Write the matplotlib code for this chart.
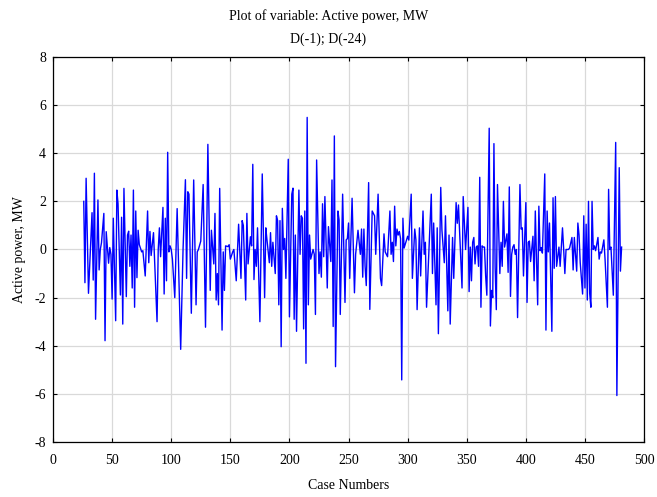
import numpy as np
import matplotlib
matplotlib.use('Agg')
import matplotlib.pyplot as plt

# case numbers and values
cases = [
    26, 27, 28, 30, 33, 34, 35, 36, 38, 39, 40, 41, 43, 44, 45, 47, 48, 49, 50, 51,
    53, 54, 55, 57, 58, 59, 60, 62, 63, 64, 65, 66, 67, 68, 69, 70, 71, 72, 73, 75,
    76, 78, 80, 81, 82, 83, 85, 88, 89, 90, 91, 93, 94, 95, 96, 97, 98, 99, 100, 101,
    103, 105, 108, 110, 112, 113, 114, 115, 117, 119, 121, 122, 123, 125, 127, 129, 131, 133, 134, 136,
    137, 138, 139, 140, 141, 143, 144, 145, 146, 148, 149, 150, 152, 153, 155, 157, 159, 160, 161, 163,
    164, 165, 167, 168, 169, 170, 171, 172, 173, 175, 177, 179, 180, 181, 183, 184, 185, 186, 188, 189,
    190, 191, 192, 193, 194, 195, 196, 197, 199, 200, 202, 203, 204, 205, 206, 208, 209, 210, 211, 212,
    213, 214, 215, 216, 217, 218, 220, 221, 222, 223, 225, 226, 227, 228, 229, 230, 232, 233, 235, 236,
    237, 238, 239, 241, 242, 243, 245, 247, 248, 249, 250, 251, 253, 255, 256, 258, 260, 261, 262, 263,
    264, 265, 267, 268, 270, 272, 273, 275, 277, 278, 280, 281, 283, 285, 286, 287, 288, 289, 290, 291,
    292, 293, 294, 295, 296, 297, 300, 301, 303, 304, 306, 307, 308, 310, 311, 313, 314, 315, 316, 318,
    320, 321, 322, 324, 325, 326, 328, 329, 331, 332, 334, 335, 336, 338, 339, 341, 342, 343, 344, 346,
    347, 349, 351, 352, 353, 354, 355, 356, 357, 358, 359, 360, 361, 362, 363, 364, 365, 366, 367, 369,
    370, 371, 372, 373, 374, 375, 376, 378, 379, 380, 381, 382, 384, 385, 386, 387, 388, 389, 390, 391,
    392, 393, 395, 396, 397, 398, 400, 401, 402, 403, 404, 406, 407, 408, 410, 411, 412, 413, 414, 416,
    417, 418, 419, 420, 422, 423, 424, 425, 426, 428, 429, 431, 432, 433, 434, 436, 437, 439, 440, 441,
    443, 444, 445, 446, 448, 449, 450, 451, 452, 453, 454, 455, 456, 457, 458, 459, 461, 462, 463, 464,
    466, 467, 469, 470, 471, 472, 474, 476, 477, 479, 480, 481,
]
power = [
    2.0, -1.38, 2.96, -1.82, 1.53, -1.27, 3.17, -2.9, 2.06, -0.85, 0.0, 0.28, 1.5, -3.79, 0.74, -0.57, 0.08, -0.2, -2.06, 1.3,
    -2.96, 2.47, 1.9, -1.89, 1.34, -3.1, 2.54, -1.96, 0.6, 0.76, -0.7, 0.6, -1.6, 2.47, -2.4, 1.6, -1.17, 0.8, 0.2, -0.1,
    -0.05, -1.1, 1.6, -0.55, 0.75, -0.25, 0.7, -3.0, 0.0, 0.9, -0.3, 1.75, -1.85, 1.3, -1.3, 4.04, -0.1, 0.15, 0.0, -0.4,
    -2.0, 1.7, -4.15, 0.0, 2.9, -1.2, 2.4, 2.3, -2.65, 2.89, -2.3, -0.1, 0.0, 0.35, 2.7, -3.23, 4.37, -1.7, 0.8, -0.6,
    1.5, -2.1, -1.0, -2.3, 2.54, -3.35, -0.1, -1.7, 0.15, 0.12, 0.2, -0.4, -0.1, 0.0, -1.3, 1.05, -1.2, 1.2, 1.0, -2.1,
    1.5, -0.6, 0.53, 0.15, 3.54, -1.25, 0.0, -0.7, 0.9, -3.0, 3.14, -2.0, 0.9, 0.4, -0.55, 0.7, -0.7, 0.3, -1.0, 1.4,
    1.2, -2.3, 1.2, -4.04, 1.71, 0.0, 0.46, -1.2, 3.75, -2.8, 2.3, 2.55, -2.9, 0.6, -3.4, 2.47, -0.2, 1.4, 1.3, -3.3,
    1.6, -4.73, 5.49, -2.3, 0.6, -0.4, 0.0, -0.2, -2.7, 3.72, -1.0, -0.1, -1.15, 1.9, -0.3, 2.2, -1.6, 0.95, -0.5, 2.89,
    -3.2, 4.72, -4.87, 1.6, 1.23, -2.7, 2.3, -2.2, 0.4, 0.45, 1.1, -1.2, 2.13, -1.8, -0.2, 0.8, -0.2, 0.85, -1.15, 0.85,
    -0.7, -1.5, 2.78, -2.49, 1.6, 1.4, -0.2, 2.3, -1.2, -1.5, 0.65, -0.1, -0.3, 1.6, -0.2, 0.3, -0.5, 1.8, 0.15, 0.85,
    0.6, 0.75, 0.45, -5.42, 1.3, 0.06, 0.55, 0.39, 2.3, -1.2, 0.85, 0.4, -2.5, 0.9, -1.1, 1.6, -0.2, 0.3, -2.4, 0.0,
    2.3, -1.0, 1.1, -2.3, 0.9, -3.5, 2.58, 0.81, -0.55, 1.4, -2.55, 0.6, -3.1, 0.5, -1.2, 1.95, 1.09, 1.85, 0.67, -1.6,
    2.2, 0.0, 1.75, -1.75, 0.1, -1.3, 0.3, 0.5, -0.6, 0.1, 0.15, -0.7, 3.0, -2.4, 0.15, 0.1, 0.1, -1.1, -1.9, 5.04,
    -3.18, -1.7, -2.0, 4.4, -0.71, -2.5, 2.7, -1.0, 0.3, -0.7, 2.0, 0.1, 0.65, -0.95, 2.6, -1.95, -0.2, 0.1, 0.2, -0.2,
    0.0, -2.83, 2.7, 0.85, 0.9, -1.1, 1.95, -2.2, 0.3, 0.35, -0.5, 0.55, -1.3, 1.6, -2.3, 1.8, -0.05, 0.08, -0.15, 3.14,
    -3.35, 1.6, -0.1, 1.1, -3.4, 2.15, -0.78, 2.2, -0.7, 0.1, -0.7, 0.9, 0.0, -1.0, 0.0, 0.0, 0.06, 0.5, -0.85, 0.5,
    -0.9, 1.1, 0.6, -0.55, -1.85, 1.4, -1.6, 1.05, -2.1, 2.0, -1.82, -2.4, 2.0, 0.0, 0.15, -0.05, 0.5, -0.4, -0.1, -0.15,
    0.4, -0.4, -2.4, 2.5, 0.0, 0.1, -1.9, 4.45, -6.07, 3.4, -0.9, 0.1,
]

x_ticks = [0, 50, 100, 150, 200, 250, 300, 350, 400, 450, 500]
y_ticks = [-8, -6, -4, -2, 0, 2, 4, 6, 8]

plt.rcParams['font.family'] = ['Liberation Serif', 'DejaVu Serif']
plt.rcParams['axes.unicode_minus'] = False

fig = plt.figure(figsize=(6.57, 4.97), dpi=100)
ax = fig.add_axes([0.0807, 0.1107, 0.8996, 0.7746])

ax.plot(cases, power, color='#0000ff', linewidth=1.0)

ax.set_xlim(0, 500)
ax.set_ylim(-8, 8)
ax.set_xticks(x_ticks)
ax.set_yticks(y_ticks)
ax.grid(True, color='#d9d9d9', linewidth=0.9)
ax.set_axisbelow(True)
ax.tick_params(direction='in', top=True, right=True, labelsize=10, length=3)
ax.tick_params(axis='x', pad=9)
ax.tick_params(axis='y', pad=5)
for s in ax.spines.values():
    s.set_linewidth(0.9)

ax.set_xlabel('Case Numbers', fontsize=10, labelpad=8)
ax.set_ylabel('Active power, MW', fontsize=10, labelpad=6)
fig.text(0.5, 0.967, 'Plot of variable: Active power, MW', ha='center', va='center', fontsize=10)
fig.text(0.5, 0.921, 'D(-1); D(-24)', ha='center', va='center', fontsize=10)

fig.savefig('out.png', dpi=100)
